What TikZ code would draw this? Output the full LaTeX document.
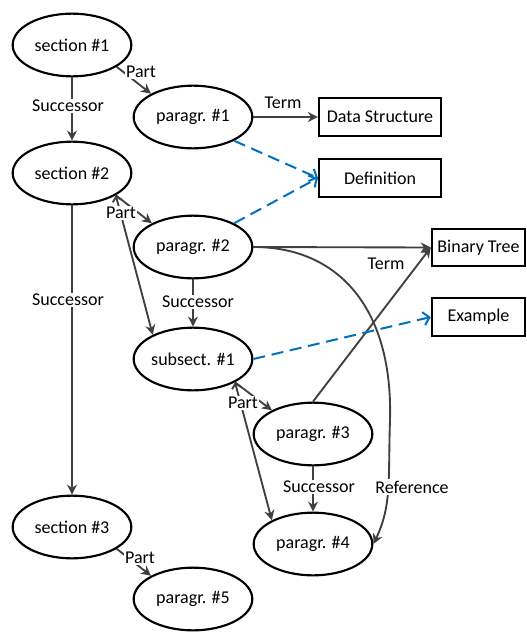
\documentclass[tikz,border=0pt]{standalone}
\usepackage{fontspec}
\setmainfont{Carlito}
\usetikzlibrary{arrows.meta,shapes.geometric}
\definecolor{edgegray}{HTML}{404040}
\definecolor{linkblue}{HTML}{0070C0}

\begin{document}
\begin{tikzpicture}[x=0.75pt,y=-0.75pt,
  every node/.style={font=\fontsize{13.5}{16}\selectfont},
  topic/.style={ellipse, draw=black, line width=1.6pt, minimum width=89pt,
    minimum height=47pt, inner sep=0pt, fill=white},
  termbox/.style={rectangle, draw=black, line width=1.6pt, minimum height=28pt,
    inner sep=0pt, fill=white},
  rel/.style={draw=edgegray, line width=1.4pt, -{Stealth[length=7.5pt,width=7.5pt]}},
  partrel/.style={rel, {Straight Barb[length=3.5pt,width=7pt]}-{Stealth[length=7.5pt,width=7.5pt]}},
  link/.style={draw=linkblue, line width=1.5pt, dash pattern=on 9pt off 5pt,
    -{Straight Barb[length=4.5pt,width=10pt]}},
  lbl/.style={fill=white, inner sep=1pt}
]
\useasboundingbox (0,0) rectangle (527,632);

% document structure
\node[topic] (s1) at (72,45) {section \#1};
\node[topic] (p1) at (193,117) {paragr. \#1};
\node[topic] (s2) at (72,173) {section \#2};
\node[topic] (p2) at (193,247) {paragr. \#2};
\node[topic] (sub1) at (193,359) {subsect. \#1};
\node[topic] (p3) at (313,434) {paragr. \#3};
\node[topic] (p4) at (313,544) {paragr. \#4};
\node[topic] (s3) at (72,527) {section \#3};
\node[topic] (p5) at (193,599) {paragr. \#5};

% terms and annotations
\node[termbox, minimum width=91.5pt] (ds) at (380,117) {Data Structure};
\node[termbox, minimum width=91.5pt] (def) at (380,178) {Definition};
\node[termbox, minimum width=70pt] (bt) at (478.5,247.5) {Binary Tree};
\node[termbox, minimum width=70pt] (ex) at (478.5,317) {Example};

% successor relations
\draw[rel] (s1.south) -- (s2.north);
\draw[rel] (s2.south) -- (s3.north);
\draw[rel] (p2.south) -- (sub1.north);
\draw[rel] (p3.south) -- (p4.north);

% part relations
\draw[rel] (s1.-26) -- (p1.151);
\draw[rel] (s2.-27) -- (p2.150);
\draw[partrel] (s2.-27) -- (sub1.149);
\draw[rel] (sub1.-29) -- (p3.150);
\draw[partrel] (sub1.-29) -- (p4.150);
\draw[rel] (s3.-26) -- (p5.151);

% term relations
\draw[rel] (p1.east) -- (ds.west);
\draw[rel] (p2.east) -- (bt.west);
\draw[rel] (p3.north) -- (bt.west);

% reference
\draw[rel] (p2.east) .. controls (340,247) and (393,310) .. (390,420)
  .. controls (388,480) and (392,505) .. (p4.east);

% annotation links
\draw[link] (p1.-30) -- (def.west);
\draw[link] (p2.30) -- (def.west);
\draw[link] (sub1.east) -- (ex.west);

% labels
\node[lbl] (ls1) at (68,106) {Successor};
\node[lbl] (ls2) at (68,300) {Successor};
\node[lbl] (ls3) at (198,302) {Successor};
\node[lbl] (ls4) at (319,487) {Successor};
\node[lbl] (lp1) at (141,72) {Part};
\node[lbl] (lp2) at (121,213) {Part};
\node[lbl] (lp3) at (243,403) {Part};
\node[lbl] (lp4) at (140,558) {Part};
\node[lbl] (lt1) at (283,103) {Term};
\node[lbl] (lt2) at (386,264) {Term};
\node[lbl] (lr) at (412,487) {Reference};
\end{tikzpicture}
\end{document}
